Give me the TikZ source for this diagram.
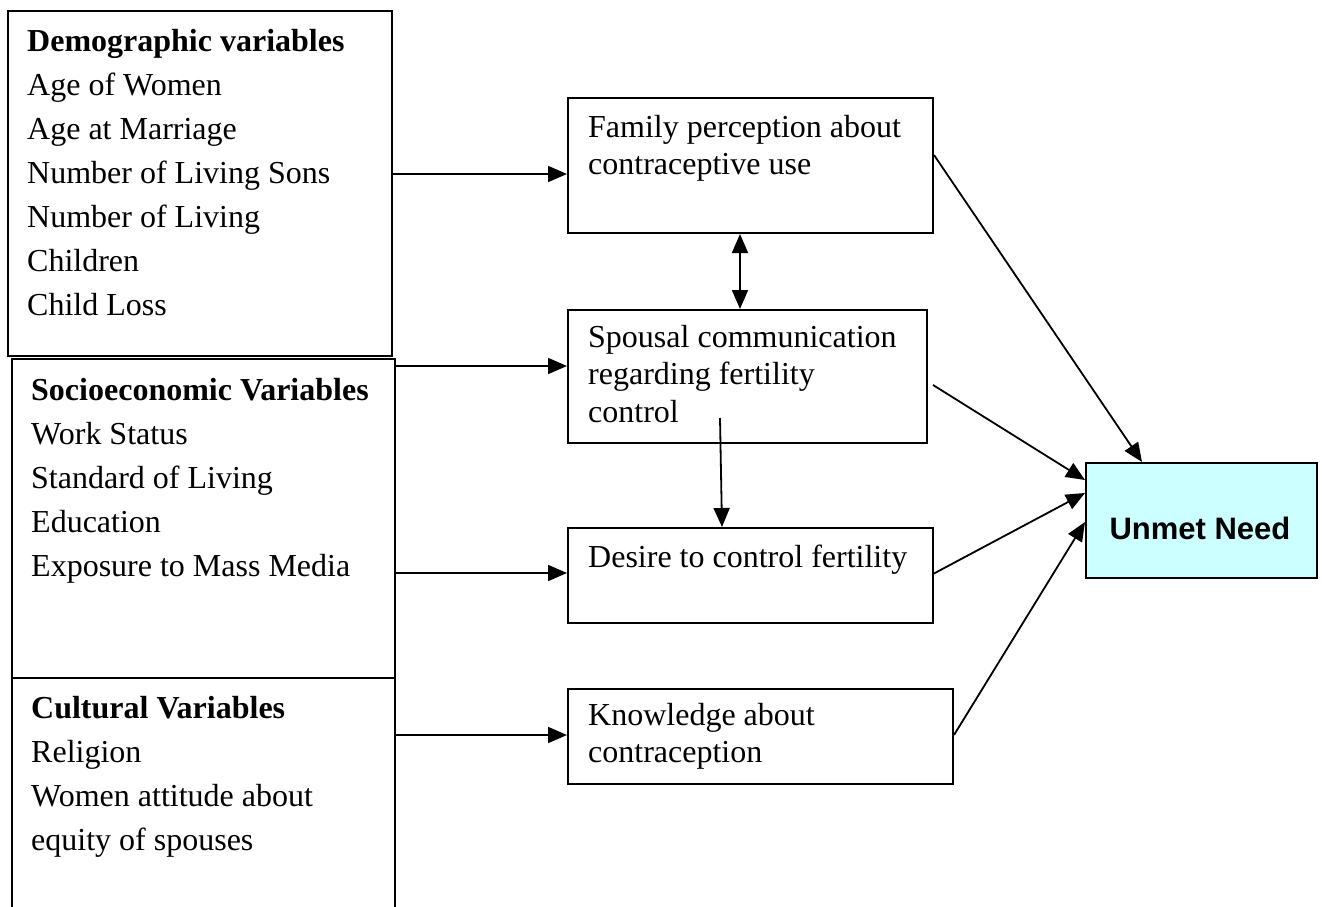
\documentclass[tikz,border=0pt]{standalone}
\usepackage{fontspec}
\setmainfont{Liberation Serif}
\newfontfamily\arialfont{Liberation Sans}
\usetikzlibrary{arrows.meta}
\tikzset{
  boxnode/.style={draw, line width=2pt, inner sep=0pt, anchor=north west},
  bigtext/.style={anchor=north west, inner sep=0pt, align=left, font=\fontsize{32}{44}\selectfont},
  midtext/.style={anchor=north west, inner sep=0pt, align=left, font=\fontsize{32}{37.5}\selectfont},
  arr/.style={line width=1.8pt, -{Triangle[length=19pt,width=16pt]}},
  darr/.style={line width=1.8pt, {Triangle[length=19pt,width=16pt]}-{Triangle[length=19pt,width=16pt]}}
}
\begin{document}
\begin{tikzpicture}[x=1pt,y=-1pt]
\clip (0,0) rectangle (1322,907);
\fill[white] (0,0) rectangle (1322,907);
% left boxes
\node[boxnode, minimum width=384pt, minimum height=345pt] (demo) at (7,10) {};
\node[boxnode, minimum width=383pt, minimum height=319pt] (socio) at (11,358) {};
\node[boxnode, minimum width=383pt, minimum height=260pt] (cult) at (11,677) {};
\node[bigtext] (demotxt) at (27,20.5) {\strut\textbf{Demographic variables}\\Age of Women\\Age at Marriage\\Number of Living Sons\\Number of Living\\Children\\Child Loss};
\node[bigtext] (sociotxt) at (31,369) {\strut\textbf{Socioeconomic Variables}\\Work Status\\Standard of Living\\Education\\Exposure to Mass Media};
\node[bigtext] (culttxt) at (31,687) {\strut\textbf{Cultural Variables}\\Religion\\Women attitude about\\equity of spouses};
% middle boxes
\node[boxnode, minimum width=365pt, minimum height=135pt] (fam) at (567,97) {};
\node[boxnode, minimum width=359pt, minimum height=133pt] (spous) at (567,309) {};
\node[boxnode, minimum width=365pt, minimum height=95pt] (des) at (567,527) {};
\node[boxnode, minimum width=385pt, minimum height=95pt] (know) at (567,688) {};
\node[midtext] (famtxt) at (588,111) {\strut Family perception about\\contraceptive use};
\node[midtext] (spoustxt) at (588,321) {\strut Spousal communication\\regarding fertility\\control};
\node[midtext] (destxt) at (588,541) {\strut Desire to control fertility};
\node[midtext] (knowtxt) at (588,699) {\strut Knowledge about\\contraception};
% outcome
\node[boxnode, fill={rgb,255:red,204;green,255;blue,255}, minimum width=231pt, minimum height=115pt] (unmet) at (1085,462) {};
\node[anchor=base, inner sep=0pt, font=\arialfont\bfseries\fontsize{31}{36}\selectfont] (unmettxt) at (1200,539) {Unmet Need};
% left arrows
\draw[arr] (demo.east |- 0,174) -- (fam.west |- 0,174);
\draw[arr] (socio.east |- 0,366) -- (spous.west |- 0,366);
\draw[arr] (socio.east |- 0,573) -- (des.west |- 0,573);
\draw[arr] (cult.east |- 0,735) -- (know.west |- 0,735);
% middle arrows
\draw[darr] (fam.south -| 740,0) -- (spous.north -| 740,0);
\coordinate (sc) at (720,418);
\draw[arr] (sc) -- (des.north -| 722,0);
% right arrows
\draw[arr] (fam.east |- 0,155) -- (unmet.north -| 1142,0);
\draw[arr] ([xshift=5pt]spous.east |- 0,385) -- (unmet.west |- 0,480);
\draw[arr] ([xshift=-1pt]des.east |- 0,574) -- (unmet.west |- 0,493);
\draw[arr] (know.east |- 0,735) -- (unmet.west |- 0,522);
\end{tikzpicture}
\end{document}
